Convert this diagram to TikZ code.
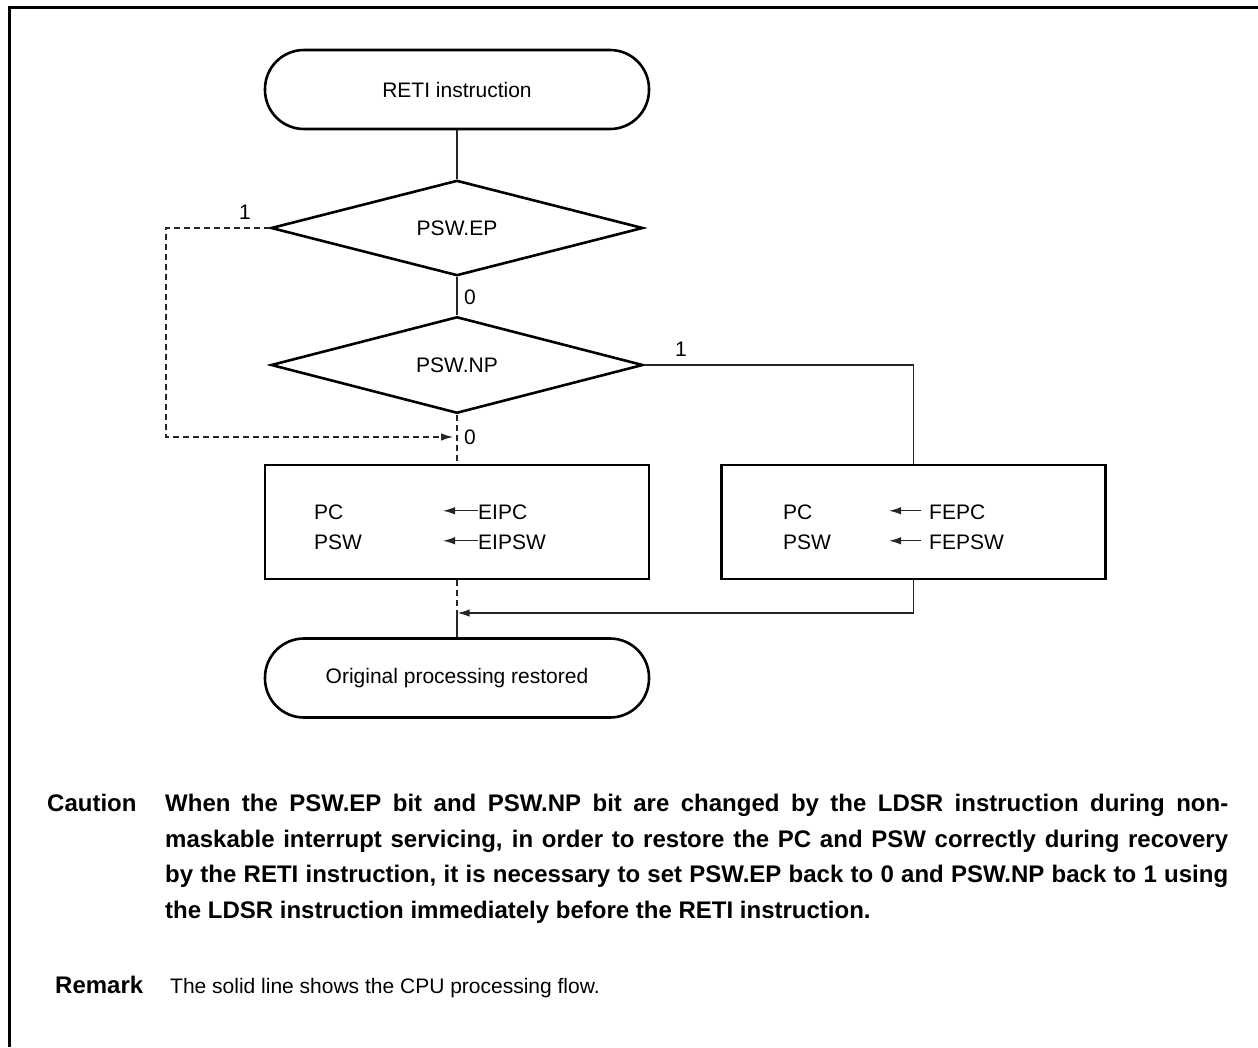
\documentclass[tikz,border=0pt]{standalone}
\usepackage{fontspec}
\setmainfont{Liberation Sans}
\usetikzlibrary{shapes.geometric,arrows.meta}
\begin{document}
\begin{tikzpicture}[x=1pt,y=-1pt,
  every node/.style={font=\fontsize{21}{25}\selectfont},
  term/.style={draw,line width=2.6pt,rounded corners=39pt,minimum width=384pt,minimum height=79pt,inner sep=0},
  dec/.style={draw,diamond,line width=2.6pt,minimum width=372pt,minimum height=82pt,inner sep=0},
  proc/.style={draw,line width=2.6pt,minimum width=384pt,minimum height=114pt,inner sep=0},
  conn/.style={line width=1.2pt,draw=black!85},
  dconn/.style={conn,dash pattern=on 6pt off 4pt},
  tip/.style={-{Latex[length=12pt,width=7.5pt]}},
  lbl/.style={inner sep=0},
  boldnote/.style={font=\fontsize{24}{35.5}\selectfont\bfseries}
]
\useasboundingbox (0,0) rectangle (1258,1047);
\draw[line width=3pt] (9.5,1047) -- (9.5,7.5) -- (1258,7.5);

\node[term] (start) at (457,89.5) {RETI instruction};
\node[dec] (ep) at (457,228) {PSW.EP};
\node[dec] (np) at (457,365) {PSW.NP};
\node[proc] (b1) at (457,522) {};
\node[proc] (b2) at (913.5,522) {};
\node[term] (end) at (457,678) {Original processing restored};

% box contents
\node[lbl,anchor=base west] (pc1) at (314,519) {PC};
\node[lbl,anchor=base west] (psw1) at (314,549) {PSW};
\node[lbl,anchor=base west] (eipc) at (478,519) {EIPC};
\node[lbl,anchor=base west] (eipsw) at (478,549) {EIPSW};
\draw[conn,tip] (eipc.west) ++(0,-1) -- ++(-35,0);
\draw[conn,tip] (eipsw.west) ++(0,-1) -- ++(-35,0);

\node[lbl,anchor=base west] (pc2) at (783,519) {PC};
\node[lbl,anchor=base west] (psw2) at (783,549) {PSW};
\node[lbl,anchor=base west] (fepc) at (929,519) {FEPC};
\node[lbl,anchor=base west] (fepsw) at (929,549) {FEPSW};
\draw[conn,tip] (fepc.west) ++(-8,-1) -- ++(-32,0);
\draw[conn,tip] (fepsw.west) ++(-8,-1) -- ++(-32,0);

% connectors
\draw[conn] (start.south) -- (ep.north);
\draw[conn] (ep.south) -- (np.north);
\node[lbl] (l0a) at (470,297) {0};
\node[lbl] (l1a) at (245,212) {1};
\node[lbl] (l1b) at (681,349) {1};
\node[lbl] (l0b) at (470,437) {0};

\coordinate (m1) at (457,437);
\coordinate (m2) at (457,613);
\draw[dconn,tip] (ep.west) -- (166,228) -- (166,437) -- ([xshift=-4pt]m1);
\draw[dconn] (np.south) -- (b1.north);
\draw[conn] (np.east) -| (b2.north);
\draw[dconn] (b1.south) -- (m2);
\draw[conn] (m2) -- (end.north);
\draw[conn,tip] (b2.south) |- ([xshift=0.6pt]m2);

% notes
\node[lbl,anchor=base west,boldnote] (caut) at (47,811) {Caution};
\node[lbl,anchor=north west,text width=1063pt,align=justify,boldnote] (ctext) at (165,794)
{When the PSW.EP bit and PSW.NP bit are changed by the LDSR instruction during non-\linebreak maskable interrupt servicing, in order to restore the PC and PSW correctly during recovery\linebreak by the RETI instruction, it is necessary to set PSW.EP back to 0 and PSW.NP back to 1 using\linebreak the LDSR instruction immediately before the RETI instruction.};
\node[lbl,anchor=base west,boldnote] (rem) at (55,993) {Remark};
\node[lbl,anchor=base west] (rtext) at (170,993) {The solid line shows the CPU processing flow.};
\end{tikzpicture}
\end{document}
